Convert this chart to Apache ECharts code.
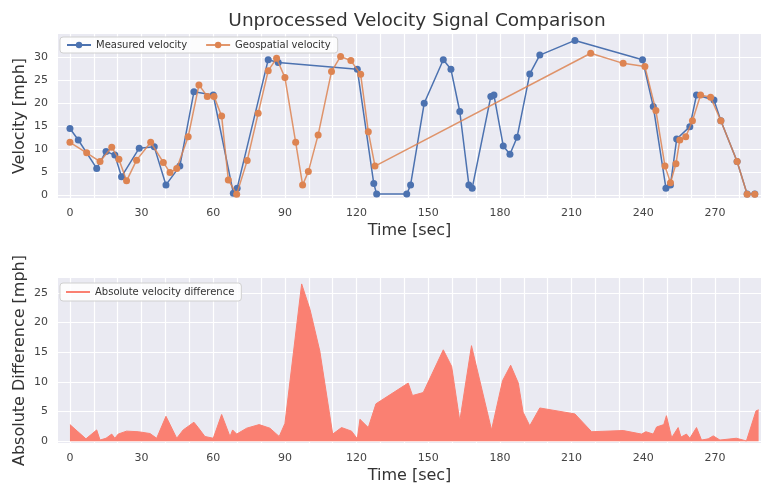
<!DOCTYPE html>
<html><head><meta charset="utf-8">
<script src="https://cdn.jsdelivr.net/npm/echarts@6/dist/echarts.min.js"></script>
<style>html,body{margin:0;padding:0;background:#fff}#c{width:761px;height:485px}</style>
</head><body><div id="c"></div>
<script>
const measuredTime = [0, 3.5, 11.2, 15.1, 18.8, 21.6, 29, 35.3, 40.2, 46, 51.9, 60, 68.4, 70, 83, 87.2, 120.3, 127.2, 128.4, 141, 142.6, 148.3, 156.3, 159.5, 163.2, 167, 168.4, 176.2, 177.5, 181.4, 184.2, 187.2, 192.5, 196.7, 211.4, 239.7, 244.2, 249.5, 251.4, 254, 259.5, 262.3, 269.6, 272.5, 279.3, 283.5, 286.7];
const measuredVel = [14.5, 12.0, 5.8, 9.5, 8.7, 4.0, 10.2, 10.5, 2.2, 6.3, 22.5, 21.8, 0.4, 1.5, 29.5, 28.9, 27.4, 2.5, 0.2, 0.2, 2.2, 20, 29.5, 27.4, 18.2, 2.2, 1.5, 21.5, 21.8, 10.7, 8.9, 12.6, 26.4, 30.5, 33.7, 29.5, 19.3, 1.5, 2.2, 12.2, 14.9, 21.8, 20.7, 16.2, 7.3, 0.2, 0.2];
const geoTime = [0, 7, 12.6, 17.5, 20.5, 23.7, 27.9, 33.8, 39.1, 41.9, 44.7, 49.5, 54, 57.5, 60.3, 63.5, 66.3, 69.8, 74.2, 78.8, 83, 86.5, 90, 94.5, 97.4, 99.8, 103.9, 109.5, 113.3, 117.6, 121.7, 124.9, 127.7, 218, 231.6, 240.7, 245.3, 249.1, 251.4, 253.7, 255.3, 257.8, 260.6, 264, 268.2, 272.5, 279.3, 283.5, 286.7];
const geoVel = [11.5, 9.2, 7.3, 10.4, 7.8, 3.1, 7.6, 11.5, 7.1, 4.9, 5.8, 12.7, 24, 21.5, 21.5, 17.2, 3.3, 0.15, 7.5, 17.8, 27.1, 29.8, 25.6, 11.5, 2.2, 5.1, 13.1, 26.9, 30.2, 29.3, 26.3, 13.8, 6.3, 30.9, 28.7, 28, 18.4, 6.3, 2.7, 6.8, 12, 12.7, 16.2, 21.8, 21.3, 16.2, 7.3, 0.15, 0.15];
const diffTime = [0, 6.7, 11.2, 12.6, 15.1, 17.5, 18.8, 20.2, 23.7, 28.6, 33.5, 36.3, 40.2, 44.7, 47.4, 51.9, 53.7, 56.5, 60, 63.5, 67, 68.1, 69.8, 74, 79.2, 83.7, 87.6, 90, 97, 100.5, 104.6, 110, 113.7, 117.9, 120.3, 121.4, 124.9, 128.1, 141.6, 143.4, 147.9, 156.3, 159.8, 163.2, 168.1, 176.5, 181.1, 184.5, 187.7, 189.7, 192.5, 196.7, 211.4, 218.4, 231.6, 239.3, 241.1, 244.2, 245.6, 248.6, 249.7, 251.9, 254.6, 255.8, 258.1, 259.5, 262.3, 264.4, 267.2, 269.3, 272.1, 279, 283.2, 287.2, 288.3];
const diffVal = [2.8, 0.4, 1.9, 0.2, 0.5, 1.2, 0.5, 1.2, 1.7, 1.6, 1.3, 0.5, 4.2, 0.5, 1.9, 3.2, 2.3, 0.8, 0.5, 4.5, 0.8, 1.9, 1.2, 2.2, 2.8, 2.2, 0.8, 3.0, 26.5, 22.2, 15.2, 1.2, 2.3, 1.7, 0.4, 3.7, 2.3, 6.3, 9.8, 7.7, 8.2, 15.4, 12.6, 3.4, 16.1, 1.9, 10.2, 12.8, 9.8, 4.9, 2.6, 5.6, 4.6, 1.6, 1.8, 1.2, 1.6, 1.2, 2.4, 2.8, 4.3, 0.6, 2.3, 0.7, 1.2, 0.5, 2.3, 0.2, 0.4, 0.9, 0.2, 0.5, 0.05, 5.1, 5.3];
const xTickLabels = [0, 30, 60, 90, 120, 150, 180, 210, 240, 270];
const xGrid = [0, 10, 20, 30, 40, 50, 60, 70, 80, 90, 100, 110, 120, 130, 140, 150, 160, 170, 180, 190, 200, 210, 220, 230, 240, 250, 260, 270, 280];
const yTopTicks = [0, 5, 10, 15, 20, 25, 30];
const yBotTicks = [0, 5, 10, 15, 20, 25];

const zip = (a, b) => a.map((t, i) => [t, b[i]]);
const FONT = 'DejaVu Sans';
const BLUE = '#4C72B0', ORANGE = '#DD8452', SALMON = '#FA8072';

function xAxis(gi) {
  return {
    type: 'value', gridIndex: gi, min: -5, max: 289.3,
    name: 'Time [sec]', nameLocation: 'middle', nameGap: 25,
    nameTextStyle: { fontFamily: FONT, fontSize: 16, color: '#333' },
    axisLine: { show: false },
    axisTick: { show: false, customValues: xGrid },
    axisLabel: { customValues: xTickLabels, fontFamily: FONT, fontSize: 11, color: '#444', margin: 10 },
    splitLine: { show: true, lineStyle: { color: '#fff', width: 1.2 } }
  };
}
function yAxis(gi, min, max, ticks, name) {
  return {
    type: 'value', gridIndex: gi, min: min, max: max,
    name: name, nameLocation: 'middle', nameGap: 30, nameMoveOverlap: false,
    nameTextStyle: { fontFamily: FONT, fontSize: 16, color: '#333' },
    axisLine: { show: false },
    axisTick: { show: false, customValues: ticks },
    axisLabel: { customValues: ticks, fontFamily: FONT, fontSize: 11, color: '#444', margin: 10 },
    splitLine: { show: true, lineStyle: { color: '#fff', width: 1.2 } }
  };
}

const chart = echarts.init(document.getElementById('c'), null, { renderer: 'canvas' });
chart.setOption({
  animation: false,
  backgroundColor: '#fff',
  title: {
    text: 'Unprocessed Velocity Signal Comparison', left: 412, top: 7, textAlign: 'center',
    textStyle: { fontFamily: FONT, fontSize: 18.5, fontWeight: 'normal', color: '#333' }
  },
  legend: [
    {
      data: ['Measured velocity', 'Geospatial velocity'],
      left: 60, top: 37, orient: 'horizontal', itemGap: 18, itemWidth: 24, itemHeight: 8,
      backgroundColor: 'rgba(255,255,255,0.85)', borderColor: '#d0d0d0', borderWidth: 1, borderRadius: 3,
      padding: [3, 7, 3, 6],
      textStyle: { fontFamily: FONT, fontSize: 10, color: '#333' }
    },
    {
      data: [{ name: 'Absolute velocity difference', icon: 'rect' }],
      left: 60, top: 283, itemWidth: 24, itemHeight: 2,
      backgroundColor: 'rgba(255,255,255,0.85)', borderColor: '#d0d0d0', borderWidth: 1, borderRadius: 3,
      padding: [4, 7, 4, 6],
      textStyle: { fontFamily: FONT, fontSize: 10, color: '#333' }
    }
  ],
  grid: [
    { left: 58, top: 34, width: 703, height: 164, show: true, backgroundColor: '#EAEAF2', borderWidth: 0 },
    { left: 58, top: 278, width: 703, height: 167, show: true, backgroundColor: '#EAEAF2', borderWidth: 0 }
  ],
  xAxis: [xAxis(0), xAxis(1)],
  yAxis: [
    yAxis(0, -0.65, 35.1, yTopTicks, 'Velocity [mph]'),
    yAxis(1, -0.3, 27.5, yBotTicks, 'Absolute Difference [mph]')
  ],
  series: [
    {
      name: 'Measured velocity', type: 'line', xAxisIndex: 0, yAxisIndex: 0,
      data: zip(measuredTime, measuredVel), symbol: 'circle', symbolSize: 7,
      itemStyle: { color: BLUE }, lineStyle: { color: BLUE, width: 1.5 }, z: 3
    },
    {
      name: 'Geospatial velocity', type: 'line', xAxisIndex: 0, yAxisIndex: 0,
      data: zip(geoTime, geoVel), symbol: 'circle', symbolSize: 7,
      itemStyle: { color: ORANGE }, lineStyle: { color: ORANGE, width: 1.5, opacity: 0.85 }, z: 4
    },
    {
      name: 'Absolute velocity difference', type: 'line', xAxisIndex: 1, yAxisIndex: 1,
      data: zip(diffTime, diffVal), symbol: 'none',
      itemStyle: { color: SALMON }, lineStyle: { color: SALMON, width: 1 },
      areaStyle: { color: SALMON, opacity: 1 }
    }
  ]
});
</script>
</body></html>
